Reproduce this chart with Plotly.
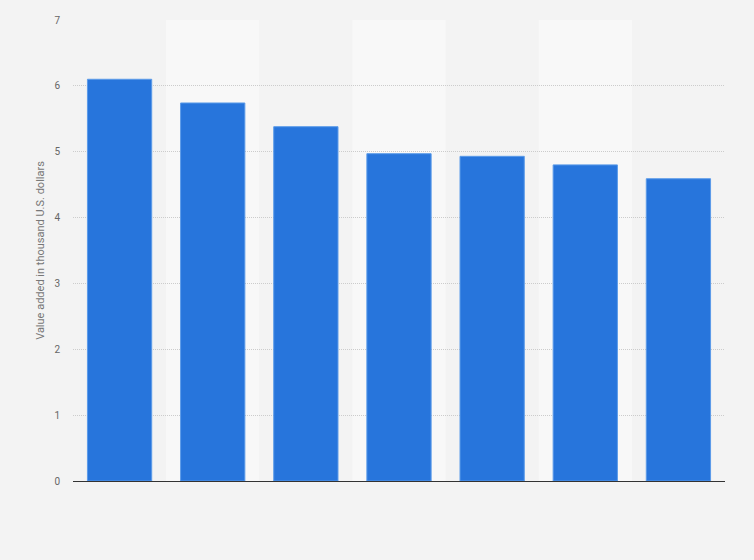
import plotly.graph_objects as go

categories = ["1", "2", "3", "4", "5", "6", "7"]
values = [6.10, 5.74, 5.38, 4.97, 4.93, 4.80, 4.59]
y_ticks = [0, 1, 2, 3, 4, 5, 6, 7]

fig = go.Figure()
fig.add_trace(go.Bar(
    x=categories, y=values,
    marker=dict(color="#2775dc", line=dict(color="#5b9be9", width=1)),
    hoverinfo="y",
))

shapes = []
for i in range(len(categories)):
    if i % 2 == 1:
        shapes.append(dict(type="rect", xref="x", yref="paper",
                           x0=i - 0.5, x1=i + 0.5, y0=0, y1=1,
                           fillcolor="#f8f8f8", line=dict(width=0), layer="below"))

fig.update_layout(
    width=754, height=560,
    margin=dict(l=73, r=29, t=20, b=79),
    paper_bgcolor="#f3f3f3", plot_bgcolor="#f3f3f3",
    bargap=0.31,
    shapes=shapes,
    showlegend=False,
    font=dict(family="Roboto, Arial, sans-serif", color="#666666", size=10),
    xaxis=dict(showticklabels=False, showgrid=False, ticks="",
               showline=True, linecolor="#333333", linewidth=1,
               range=[-0.5, len(categories) - 0.5]),
    yaxis=dict(range=[0, 7], tickvals=y_ticks, showgrid=True,
               gridcolor="#cccccc", griddash="1px,1px", gridwidth=1,
               zeroline=False, ticks="", ticklabelstandoff=12,
               tickfont=dict(size=10, color="#666666"),
               title=dict(text="Value added in thousand U.S. dollars",
                          font=dict(size=11, color="#777777"), standoff=7)),
)

fig.write_html("out.html", config={"displayModeBar": False},
               post_script="document.body.style.margin='0';")
